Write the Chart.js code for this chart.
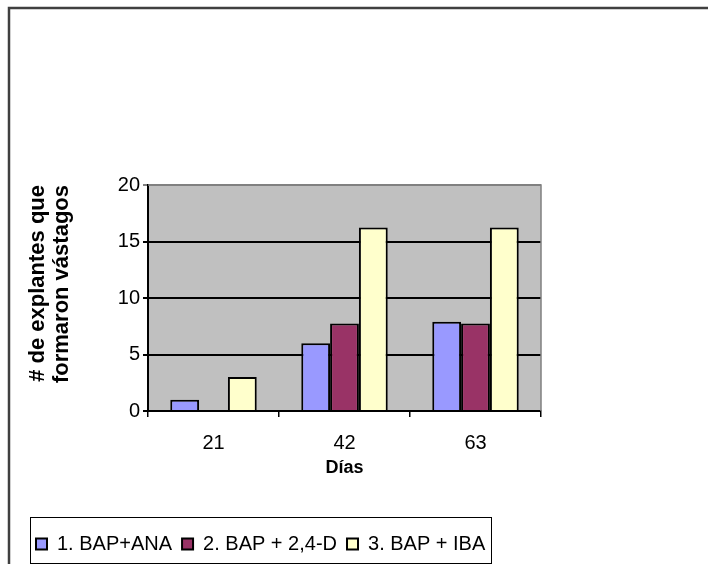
<!DOCTYPE html>
<html>
<head>
<meta charset="utf-8">
<script src="https://cdn.jsdelivr.net/npm/chart.js@4/dist/chart.umd.min.js"></script>
<style>
html,body{margin:0;padding:0;background:#fff;}
#wrap{width:708px;height:564px;position:relative;}
</style>
</head>
<body>
<div id="wrap"><canvas id="c" width="708" height="564"></canvas></div>
<script>
const categories = ['21', '42', '63'];
const seriesNames = ['1. BAP+ANA', '2. BAP + 2,4-D', '3. BAP + IBA'];
const bapAna = [1, 6, 7.9];
const bap24d = [0, 7.75, 7.75];
const bapIba = [3, 16.25, 16.25];
const yTicks = [0, 5, 10, 15, 20];
const yTitle = ['# de explantes que', 'formaron vástagos'];
const xTitle = 'Días';

const SANS = "'Liberation Sans', Arial, sans-serif";

const framePlugin = {
  id: 'frame',
  beforeDraw(chart) {
    const ctx = chart.ctx, a = chart.chartArea;
    ctx.save();
    ctx.fillStyle = '#fff';
    ctx.fillRect(0, 0, chart.width, chart.height);
    ctx.fillStyle = '#C0C0C0';
    ctx.fillRect(a.left, a.top, a.right - a.left, a.bottom - a.top);
    ctx.strokeStyle = '#404040';
    ctx.lineWidth = 2.5;
    ctx.beginPath();
    ctx.moveTo(9, chart.height + 5);
    ctx.lineTo(9, 8);
    ctx.lineTo(chart.width + 5, 8);
    ctx.stroke();
    ctx.restore();
  },
  afterDatasetsDraw(chart) {
    const ctx = chart.ctx, a = chart.chartArea;
    ctx.save();
    ctx.strokeStyle = '#808080';
    ctx.lineWidth = 1.5;
    ctx.beginPath();
    ctx.moveTo(a.left, a.top);
    ctx.lineTo(a.right, a.top);
    ctx.lineTo(a.right, a.bottom);
    ctx.stroke();
    ctx.restore();
  },
  afterDraw(chart) {
    const lg = chart.legend;
    if (!lg || !lg.legendHitBoxes || !lg.legendHitBoxes.length) return;
    const hb = lg.legendHitBoxes;
    const first = hb[0], last = hb[hb.length - 1];
    const ctx = chart.ctx;
    ctx.save();
    ctx.strokeStyle = '#000';
    ctx.lineWidth = 1;
    const x0 = Math.round(first.left - 6) + 0.5;
    const x1 = Math.round(last.left + last.width + 6) + 0.5;
    ctx.strokeRect(x0, 517.5, x1 - x0, 46);
    ctx.restore();
  }
};

new Chart(document.getElementById('c'), {
  type: 'bar',
  data: {
    labels: categories,
    datasets: [
      { label: seriesNames[0], data: bapAna, backgroundColor: '#9999FF', borderColor: '#000', borderWidth: 2 },
      { label: seriesNames[1], data: bap24d, backgroundColor: '#993366', borderColor: '#000', borderWidth: 2 },
      { label: seriesNames[2], data: bapIba, backgroundColor: '#FFFFCC', borderColor: '#000', borderWidth: 2 }
    ]
  },
  options: {
    responsive: false,
    animation: false,
    devicePixelRatio: 1,
    layout: { padding: { top: 185, right: 0, left: 26, bottom: 0 } },
    datasets: { bar: { categoryPercentage: 0.66, barPercentage: 1.0 } },
    plugins: {
      tooltip: { enabled: false },
      legend: {
        position: 'bottom',
        align: 'start',
        labels: {
          font: { family: SANS, size: 20 },
          color: '#000',
          boxWidth: 11,
          boxHeight: 11,
          padding: 10
        }
      }
    },
    scales: {
      x: {
        afterFit(s) { s.height = 113; },
        grid: { offset: true, drawOnChartArea: false, drawTicks: true, tickLength: 6, color: '#000', lineWidth: 1.5 },
        border: { color: '#000', width: 2 },
        ticks: { color: '#000', font: { family: SANS, size: 20 }, padding: 14 },
        title: { display: true, text: xTitle, color: '#000', font: { family: SANS, size: 18, weight: 'bold' }, padding: { top: 0, bottom: 45 } }
      },
      y: {
        min: 0, max: 20,
        afterFit(s) { s.width = 122; },
        afterBuildTicks(s) { s.ticks = yTicks.map(v => ({ value: v })); },
        grid: {
          color: ctx => (ctx.tick && ctx.tick.value === 20) ? '#808080' : '#000',
          lineWidth: 2,
          tickLength: 5,
          drawTicks: true
        },
        border: { color: '#000', width: 2 },
        ticks: { color: '#000', font: { family: SANS, size: 20 }, padding: 3 },
        title: { display: true, align: 'end', text: yTitle, color: '#000', font: { family: SANS, size: 22, weight: 'bold', lineHeight: 1.1 }, padding: { top: 0, bottom: 0 } }
      },
      rightSpace: {
        type: 'linear',
        position: 'right',
        display: true,
        afterFit(s) { s.width = 167; },
        grid: { display: false, drawTicks: false },
        border: { display: false },
        ticks: { display: false },
        title: { display: false }
      }
    }
  },
  plugins: [framePlugin]
});
</script>
</body>
</html>
